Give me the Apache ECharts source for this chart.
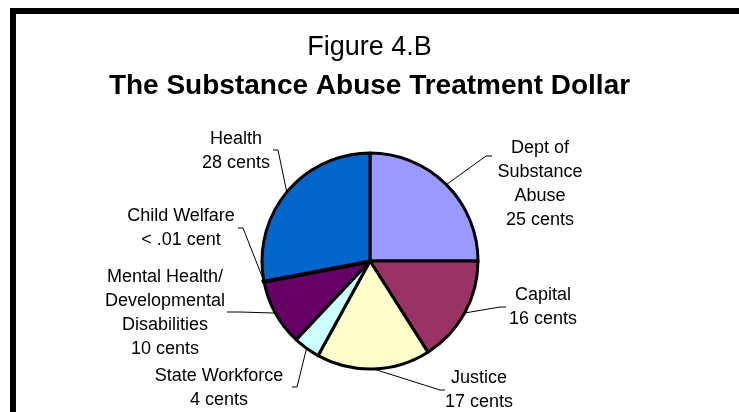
<!DOCTYPE html>
<html>
<head>
<meta charset="utf-8">
<script src="https://cdn.jsdelivr.net/npm/echarts@6/dist/echarts.min.js"></script>
<style>
html,body{margin:0;padding:0;background:#fff;}
#chart{width:739px;height:412px;}
</style>
</head>
<body>
<div id="chart"></div>
<script>
// ---- data ----
var categories = ['Dept of\nSubstance\nAbuse', 'Capital', 'Justice', 'State Workforce', 'Mental Health/\nDevelopmental\nDisabilities', 'Child Welfare', 'Health'];
var values = [25, 16, 17, 4, 10, 0.01, 28];
var valueLabels = ['25 cents', '16 cents', '17 cents', '4 cents', '10 cents', '< .01 cent', '28 cents'];
var colors = ['#9999FF', '#993366', '#FFFFCC', '#CCFFFF', '#660066', '#000000', '#0066CC'];

// ---- label layout (style only) ----
var labelPos = [
  {x: 540, y: 184, elbow: [486, 156], end: [492, 156]},
  {x: 543, y: 307, elbow: [500, 307], end: [506, 307]},
  {x: 479, y: 390, elbow: [440, 390], end: [445, 390]},
  {x: 219, y: 388, elbow: [297, 387], end: [292, 387]},
  {x: 165, y: 313, elbow: [240, 312], end: [227, 312]},
  {x: 181, y: 228, elbow: [243, 228], end: [238, 228]},
  {x: 236, y: 151, elbow: [278, 150], end: [273, 150]}
];
var borderWidths = [3, 3, 3, 3, 3, 5, 3];

var chart = echarts.init(document.getElementById('chart'), null, {renderer: 'canvas'});
var FONT = 'Liberation Sans, Arial, sans-serif';

var data = categories.map(function (c, i) {
  return {name: c, value: values[i], itemStyle: {color: colors[i], borderWidth: borderWidths[i]}};
});

chart.setOption({
  animation: false,
  backgroundColor: '#ffffff',
  title: [
    {text: 'Figure 4.B', left: 'center', top: 29,
     textStyle: {fontFamily: FONT, fontSize: 27, fontWeight: 'normal', color: '#000'}},
    {text: 'The Substance Abuse Treatment Dollar', left: 'center', top: 67,
     textStyle: {fontFamily: FONT, fontSize: 28, fontWeight: 'bold', color: '#000'}}
  ],
  graphic: [
    {type: 'rect', shape: {x: 13, y: 11, width: 800, height: 500},
     style: {fill: 'none', stroke: '#000', lineWidth: 6}, silent: true}
  ],
  series: [{
    type: 'pie',
    center: [370, 261],
    radius: 108,
    startAngle: 90,
    clockwise: true,
    avoidLabelOverlap: false,
    emphasis: {disabled: true},
    itemStyle: {borderColor: '#000', borderWidth: 3},
    label: {
      show: true,
      position: 'outside',
      fontFamily: FONT,
      fontSize: 18,
      lineHeight: 24,
      color: '#000',
      formatter: function (p) { return p.name + '\n' + valueLabels[p.dataIndex]; }
    },
    labelLine: {show: true, length: 20, length2: 8, lineStyle: {color: '#000', width: 1}},
    labelLayout: function (params) {
      var cfg = labelPos[params.dataIndex];
      var start = params.labelLinePoints ? params.labelLinePoints[0] : cfg.elbow;
      return {
        x: cfg.x, y: cfg.y, align: 'center', verticalAlign: 'middle',
        labelLinePoints: [start, cfg.elbow, cfg.end]
      };
    },
    data: data
  }]
});
</script>
</body>
</html>
